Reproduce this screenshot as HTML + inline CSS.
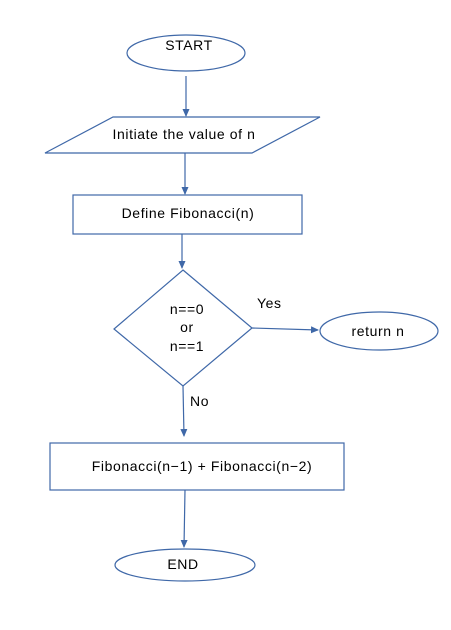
<!DOCTYPE html>
<html><head><meta charset="utf-8"><style>
html,body{margin:0;padding:0;background:#fff;width:451px;height:630px;overflow:hidden}
text{font-family:"Liberation Sans","DejaVu Sans",sans-serif;font-size:14px;letter-spacing:0.6px;fill:#000}
</style></head><body>
<svg width="451" height="630" viewBox="0 0 451 630" xmlns="http://www.w3.org/2000/svg">
<defs><marker id="a" markerWidth="8" markerHeight="8" refX="7" refY="4" orient="auto" markerUnits="userSpaceOnUse"><path d="M0,0.5 L8,4 L0,7.5 Z" fill="#3f68a8"/></marker></defs>
<g fill="none" stroke="#3f68a8" stroke-width="1.2">
<ellipse cx="186" cy="53" rx="59" ry="18"/>
<line x1="186" y1="76" x2="186" y2="116" marker-end="url(#a)"/>
<polygon points="113,117 320,117 252,153 45,153"/>
<line x1="185" y1="153" x2="185" y2="194" marker-end="url(#a)"/>
<rect x="73" y="195" width="229" height="39"/>
<line x1="182" y1="234" x2="182" y2="268" marker-end="url(#a)"/>
<polygon points="183,270 252,328 183,386 114,329"/>
<line x1="252" y1="328" x2="318" y2="330" marker-end="url(#a)"/>
<ellipse cx="379" cy="331" rx="59" ry="19"/>
<line x1="183" y1="386" x2="184" y2="436" marker-end="url(#a)"/>
<rect x="50" y="443" width="294" height="47"/>
<line x1="185" y1="490" x2="184" y2="547" marker-end="url(#a)"/>
<ellipse cx="185" cy="565" rx="70" ry="16"/>
</g>
<text x="189" y="50" text-anchor="middle">START</text>
<text x="184" y="139" text-anchor="middle">Initiate the value of n</text>
<text x="188" y="218" text-anchor="middle">Define Fibonacci(n)</text>
<text x="187" y="314" text-anchor="middle">n==0</text>
<text x="187" y="332" text-anchor="middle">or</text>
<text x="187" y="351" text-anchor="middle">n==1</text>
<text x="257" y="308">Yes</text>
<text x="378" y="336" text-anchor="middle">return n</text>
<text x="190" y="406">No</text>
<text x="202" y="471" text-anchor="middle">Fibonacci(n−1) + Fibonacci(n−2)</text>
<text x="183" y="569" text-anchor="middle">END</text>
</svg>
</body></html>
